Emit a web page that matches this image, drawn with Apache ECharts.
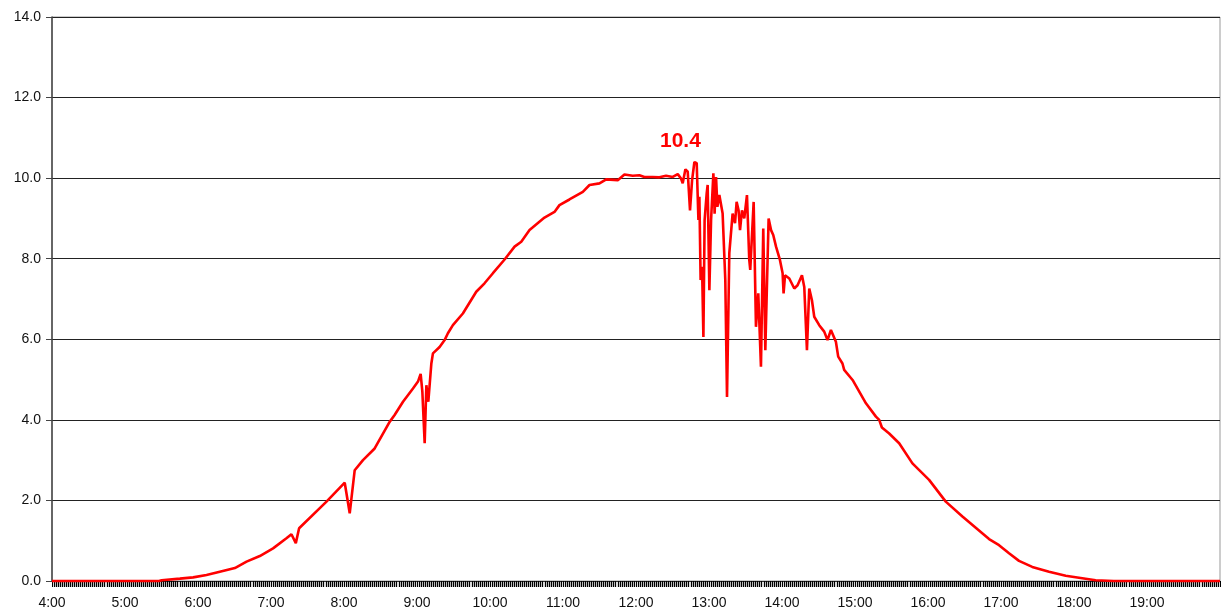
<!DOCTYPE html>
<html>
<head>
<meta charset="utf-8">
<script src="https://cdn.jsdelivr.net/npm/echarts@6/dist/echarts.min.js"></script>
<style>html,body{margin:0;padding:0;background:#fff}#c{width:1224px;height:613px}</style>
</head>
<body>
<div id="c"></div>
<script>
// time in minutes since midnight
const times = [240, 328, 330.1, 345.1, 356, 367, 377.9, 390.3, 399.9, 410.8, 421.7, 432.7, 436.8, 440.4, 443.1,
  465.6, 480.6, 482, 484.7, 488.8, 495.6, 505.2, 517.5, 521.6, 528.5, 536.7, 540.8, 543, 544.4, 546.3, 547.7, 549.3, 551.8,
  553.1, 558.6, 562.7, 565.4, 569.5, 577.7, 588.7, 595.5, 602.4, 612, 620.2, 625.7, 632.5, 644.8, 653, 657.1, 665.3,
  676.3, 681.8, 690, 695.5, 705, 710.5, 717.3, 722.8, 726.9, 733.7, 739.2, 744.7, 750.2, 754.3, 757, 758.4, 760.6,
  762.5, 764.4, 766.1, 768, 769.9, 771.3, 772.1, 773.1, 774.3, 775.4, 776.4, 778.1, 778.9, 780.3, 781.7, 783.6, 784.6,
  785.8, 786.9, 788.5, 791.2, 793.4, 794.8, 796.7, 799.4, 801.4, 802.7, 804.3, 805.5, 807.1, 809, 811.2, 813.1, 813.9,
  816.7, 818.6, 820.5, 822.7, 824.6, 826.3, 829, 831, 832.8, 835.1, 838.3, 840.5, 841.3, 842.5, 846, 850.1, 852.8,
  856.4, 858.3, 860.5, 862.4, 864.6, 866.5, 870.6, 874.7, 877.4, 880.2, 884.3, 886.2, 889.7, 891.1, 898, 909, 917.2,
  919.9, 922.1, 928.1, 936.3, 947.2, 960.9, 974.6, 988.3, 1010.2, 1018.4, 1026.6, 1034.8, 1045.7, 1059.5, 1073.2,
  1086.8, 1097.8, 1112.8, 1200];
const power = [0, 0, 0.02, 0.06, 0.09, 0.15, 0.23, 0.32, 0.48, 0.62, 0.81, 1.06, 1.16, 0.94, 1.31,
  1.97, 2.44, 2.42, 1.68, 2.75, 3.0, 3.29, 3.95, 4.12, 4.45, 4.78, 4.95, 5.14, 4.70, 3.42, 4.86, 4.45, 5.40,
  5.65, 5.81, 5.98, 6.15, 6.35, 6.64, 7.18, 7.39, 7.64, 7.98, 8.30, 8.42, 8.71, 9.02, 9.16, 9.33, 9.47,
  9.66, 9.83, 9.87, 9.97, 9.95, 10.09, 10.06, 10.07, 10.03, 10.03, 10.02, 10.06, 10.03, 10.10, 9.99, 9.87, 10.22,
  10.16, 9.20, 9.95, 10.40, 10.37, 8.96, 9.54, 7.47, 7.80, 6.06, 8.96, 9.62, 9.83, 7.22, 8.96, 10.12, 9.12,
  10.03, 9.29, 9.58, 9.12, 7.47, 4.57, 8.14, 9.12, 8.88, 9.41, 9.20, 8.71, 9.20, 9.00, 9.58, 7.97, 7.72,
  9.41, 6.31, 7.14, 5.32, 8.75, 5.73, 9.00, 8.71, 8.59, 8.30, 7.97, 7.64, 7.14, 7.59, 7.51, 7.26, 7.34,
  7.59, 7.30, 5.73, 7.26, 6.97, 6.56, 6.35, 6.19, 5.98, 6.23, 5.94, 5.57, 5.40, 5.24, 4.99, 4.41, 4.08,
  4.00, 3.81, 3.66, 3.42, 2.92, 2.51, 1.97, 1.60, 1.04, 0.89, 0.69, 0.50, 0.35, 0.23, 0.13,
  0.07, 0.02, 0, 0];
const hourLabels = ['4:00','5:00','6:00','7:00','8:00','9:00','10:00','11:00','12:00','13:00','14:00','15:00','16:00','17:00','18:00','19:00'];
const yTicks = [0, 2, 4, 6, 8, 10, 12, 14];

const data = times.map((t, i) => [t, power[i]]);
const chart = echarts.init(document.getElementById('c'));
chart.setOption({
  animation: false,
  grid: { left: 52, right: 4, top: 17, bottom: 32, show: true, borderColor: '#999', borderWidth: 1 },
  xAxis: {
    type: 'value', min: 240, max: 1200, interval: 60,
    axisLine: { lineStyle: { color: '#333', width: 1 } },
    axisTick: { show: true, length: 6, lineStyle: { color: '#000' } },
    minorTick: { show: true, splitNumber: 36, length: 6, lineStyle: { color: '#000', width: 1.3 } },
    splitLine: { show: false },
    axisLabel: {
      showMaxLabel: false, margin: 15,
      fontFamily: 'Liberation Sans', fontSize: 14, color: '#111',
      formatter: v => { const i = Math.round((v - 240) / 60); return hourLabels[i] || ''; }
    }
  },
  yAxis: {
    type: 'value', min: yTicks[0], max: yTicks[yTicks.length - 1], interval: 2,
    axisLine: { show: true, lineStyle: { color: '#444', width: 1.5 } },
    axisTick: { show: true, length: 6, lineStyle: { color: '#444' } },
    splitLine: { show: true, lineStyle: { color: '#222', width: 1 } },
    axisLabel: { margin: 11, fontFamily: 'Liberation Sans', fontSize: 14, color: '#111', formatter: v => v.toFixed(1) }
  },
  series: [{
    type: 'line', data: data, showSymbol: false, clip: false,
    lineStyle: { color: '#ff0000', width: 2.6 },
    itemStyle: { color: '#ff0000' },
    markPoint: {
      symbol: 'circle', symbolSize: 0,
      data: [{ type: 'max' }],
      label: { show: true, offset: [-14, -21], color: '#ff0000', fontFamily: 'Liberation Sans', fontWeight: 'bold', fontSize: 21,
        formatter: p => Number(p.value).toFixed(1) }
    }
  }]
});
</script>
</body>
</html>
